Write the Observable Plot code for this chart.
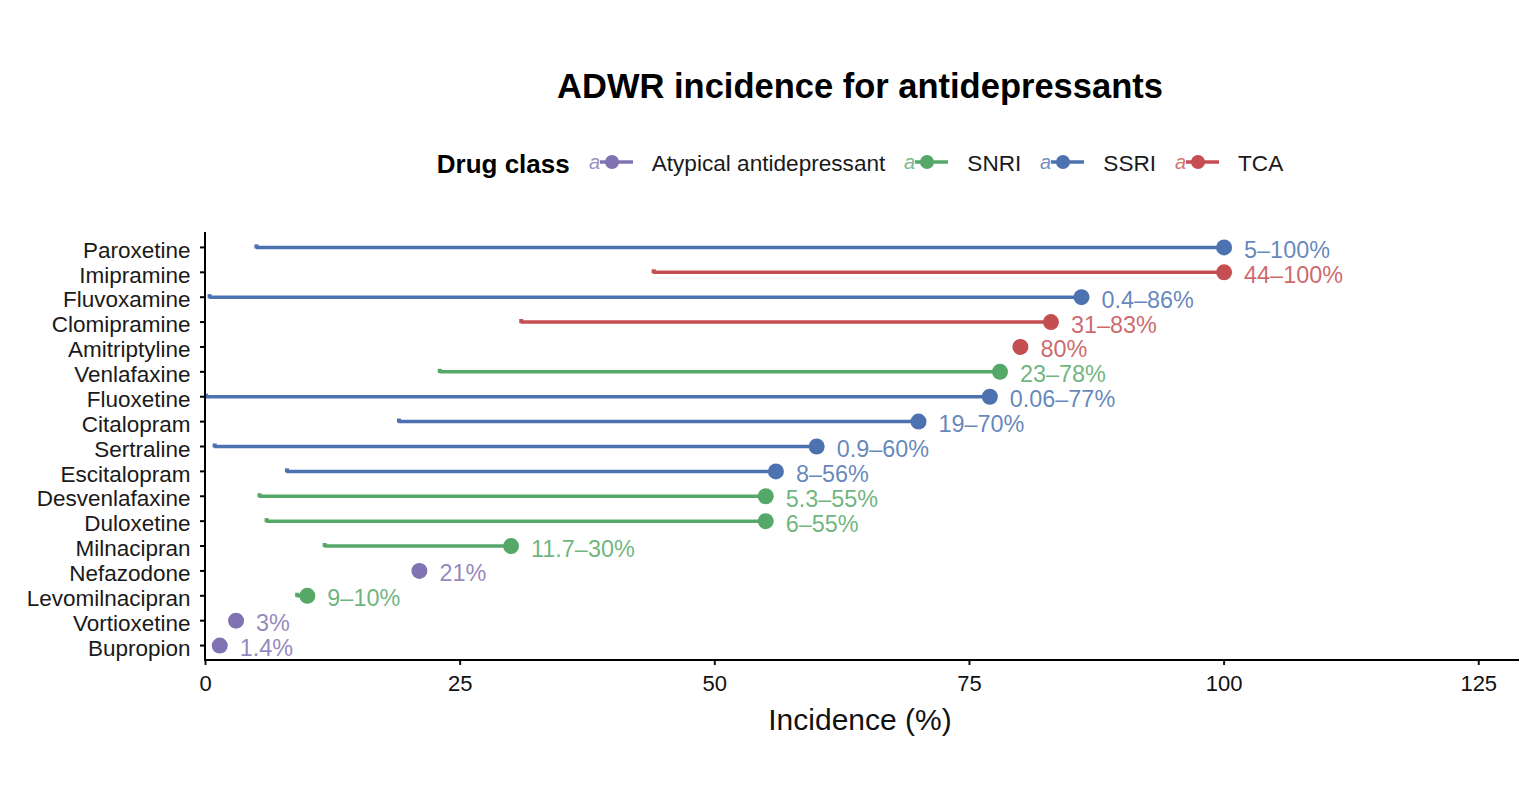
<!DOCTYPE html>
<html>
<head>
<meta charset="utf-8">
<script src="https://cdn.jsdelivr.net/npm/d3@7"></script>
<script src="https://cdn.jsdelivr.net/npm/@observablehq/plot@0.6"></script>
<style>
  html, body { margin: 0; padding: 0; background: #fff; }
  body { width: 1536px; height: 804px; position: relative; overflow: hidden; font-family: "Liberation Sans", Arial, sans-serif; }
  #title { position: absolute; left: 0; width: 1720px; top: 69px; text-align: center; font-weight: bold; font-size: 34.5px; line-height: 1; color: #000; }
  #legend { position: absolute; left: 0; width: 1720px; top: 149px; height: 30px; display: flex; justify-content: center; align-items: center; font-size: 22.6px; color: #1a1a1a; }
  #legend .lt { font-weight: bold; font-size: 26px; color: #000; }
  #legend svg { margin-left: 19px; margin-right: 19px; }
  #chart { position: absolute; left: 0; top: 200px; }
  #xlabel { position: absolute; left: 0; width: 1720px; top: 705px; text-align: center; font-size: 30px; line-height: 1; color: #111; }
</style>
</head>
<body>
<div id="title">ADWR incidence for antidepressants</div>
<div id="legend"></div>
<div id="chart"></div>
<div id="xlabel">Incidence (%)</div>
<script>
const drugs = ["Paroxetine","Imipramine","Fluvoxamine","Clomipramine","Amitriptyline","Venlafaxine","Fluoxetine","Citalopram","Sertraline","Escitalopram","Desvenlafaxine","Duloxetine","Milnacipran","Nefazodone","Levomilnacipran","Vortioxetine","Bupropion"];
const drugClass = ["SSRI","TCA","SSRI","TCA","TCA","SNRI","SSRI","SSRI","SSRI","SSRI","SNRI","SNRI","SNRI","Atypical antidepressant","SNRI","Atypical antidepressant","Atypical antidepressant"];
const lowValues = [5, 44, 0.4, 31, null, 23, 0.06, 19, 0.9, 8, 5.3, 6, 11.7, null, 9, null, null];
const highValues = [100, 100, 86, 83, 80, 78, 77, 70, 60, 56, 55, 55, 30, 21, 10, 3, 1.4];
const rangeLabels = ["5–100%","44–100%","0.4–86%","31–83%","80%","23–78%","0.06–77%","19–70%","0.9–60%","8–56%","5.3–55%","6–55%","11.7–30%","21%","9–10%","3%","1.4%"];
const classNames = ["Atypical antidepressant","SNRI","SSRI","TCA"];
const classColors = ["#8172B2","#55A868","#4C72B0","#C44E52"];
const xTicks = [0, 25, 50, 75, 100, 125];

const rows = drugs.map((d, i) => ({drug: d, cls: drugClass[i], low: lowValues[i], high: highValues[i], label: rangeLabels[i]}));
const ranged = rows.filter(d => d.low != null);

// Legend
const legend = document.getElementById("legend");
const lt = document.createElement("span");
lt.className = "lt"; lt.textContent = "Drug class";
legend.appendChild(lt);
classNames.forEach((c, i) => {
  const col = classColors[i];
  const key = document.createElementNS("http://www.w3.org/2000/svg", "svg");
  key.setAttribute("width", 44); key.setAttribute("height", 28);
  key.innerHTML = `<line x1="11" x2="44" y1="12" y2="12" stroke="${col}" stroke-width="3.5"/>
    <circle cx="23" cy="12" r="7" fill="${col}"/>
    <text x="0" y="18.5" font-size="20" font-style="italic" font-family="Liberation Sans, Arial, sans-serif" fill="${col}" fill-opacity="0.8">a</text>`;
  legend.appendChild(key);
  const lab = document.createElement("span");
  lab.textContent = c;
  legend.appendChild(lab);
});

const W = 1536, H = 560, mL = 205, mR = 17, mT = 32, mB = 100;

const axisLines = () => {
  const g = d3.create("svg:g").attr("stroke", "#000").attr("stroke-width", 2);
  g.append("line").attr("x1", mL).attr("x2", mL).attr("y1", mT).attr("y2", H - mB + 1);
  g.append("line").attr("x1", mL - 1).attr("x2", W - mR).attr("y1", H - mB).attr("y2", H - mB);
  return g.node();
};

const chart = Plot.plot({
  width: W, height: H,
  marginLeft: mL, marginRight: mR, marginTop: mT, marginBottom: mB,
  style: {fontFamily: "Liberation Sans, Arial, sans-serif", background: "transparent"},
  x: {domain: [0, 129]},
  y: {type: "point", domain: drugs, padding: 0.6, round: false},
  color: {domain: classNames, range: classColors},
  marks: [
    Plot.ruleY(ranged, {y: "drug", x1: "low", x2: "high", stroke: "cls", strokeWidth: 3.5}),
    Plot.dot(ranged, {y: "drug", x: "low", fill: "cls", symbol: "square", r: 2.3, dy: -1}),
    Plot.dot(rows, {y: "drug", x: "high", fill: "cls", r: 8}),
    Plot.text(rows, {y: "drug", x: "high", text: "label", fill: "cls", fillOpacity: 0.85, dx: 20, dy: 3, textAnchor: "start", fontSize: 23.4}),
    Plot.axisY({tickSize: 5, text: null, label: null, strokeWidth: 2, stroke: "#000"}),
    Plot.axisY({tickSize: 0, tickPadding: 15, fontSize: 22.5, label: null, fill: "#1a1a1a", dy: 3}),
    Plot.axisX({ticks: xTicks, tickSize: 5, tickPadding: 10, fontSize: 22, label: null, strokeWidth: 2, color: "#111"}),
    axisLines
  ]
});
document.getElementById("chart").appendChild(chart);
</script>
</body>
</html>
